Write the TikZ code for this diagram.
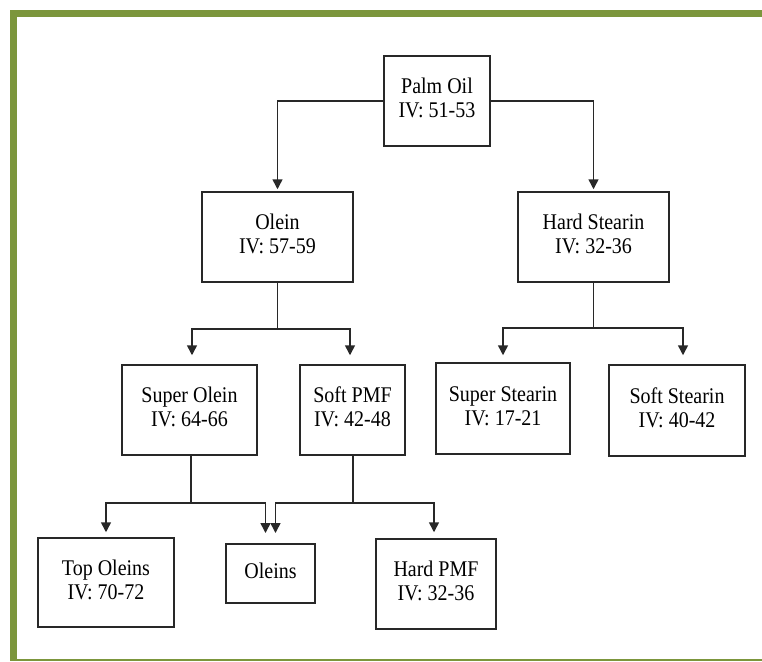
\documentclass[tikz,border=0pt]{standalone}
\usepackage{fontspec}
\usepackage{graphicx}
\setmainfont{Liberation Serif}
\usetikzlibrary{arrows.meta}
\definecolor{frame}{RGB}{124,150,60}
\definecolor{ink}{RGB}{40,40,40}
% two-line box label, slightly tall lettering, optional vertical nudge
\newcommand{\boxtext}[2][4pt]{\raisebox{#1}{\scalebox{1}[1.12]{\begin{tabular}{@{}c@{}}#2\end{tabular}}}}
\tikzset{
  stage/.style={draw=ink, line width=1.5pt, fill=white, inner sep=0pt,
    font=\fontsize{20}{21.5}\selectfont, text=black},
  flow/.style={draw=ink, line width=1.5pt},
  feed/.style={flow, -{Triangle[width=10pt,length=10pt]}},
}
\begin{document}
\begin{tikzpicture}[x=1pt, y=-1pt]
\useasboundingbox (0,0) rectangle (762,661);
\fill[white] (0,0) rectangle (762,661);
% green frame: heavy top and left bars, thin bottom rule
\fill[frame] (10,10) rectangle (762,17);
\fill[frame] (10,10) rectangle (17,661);
\fill[frame] (10,659) rectangle (762,661);

% fractions
\node[stage, minimum width=106pt, minimum height=90pt] (palm) at (437,101) {\boxtext{Palm Oil\\IV: 51-53}};
\node[stage, minimum width=151pt, minimum height=90pt] (olein) at (277.5,237) {\boxtext{Olein\\IV: 57-59}};
\node[stage, minimum width=151pt, minimum height=90pt] (hardst) at (593.5,237) {\boxtext{Hard Stearin\\IV: 32-36}};
\node[stage, minimum width=135pt, minimum height=90pt] (superol) at (189.5,410) {\boxtext{Super Olein\\IV: 64-66}};
\node[stage, minimum width=105pt, minimum height=90pt] (softpmf) at (352.5,410) {\boxtext{Soft PMF\\IV: 42-48}};
\node[stage, minimum width=134pt, minimum height=91pt] (superst) at (503,408.5) {\boxtext{Super Stearin\\IV: 17-21}};
\node[stage, minimum width=136pt, minimum height=91pt] (softst) at (677,410.5) {\boxtext{Soft Stearin\\IV: 40-42}};
\node[stage, minimum width=136pt, minimum height=89pt] (topol) at (106,582.5) {\boxtext{Top Oleins\\IV: 70-72}};
\node[stage, minimum width=89pt, minimum height=59pt] (oleins) at (270.5,573.5) {\boxtext[1pt]{Oleins}};
\node[stage, minimum width=120pt, minimum height=90pt] (hardpmf) at (436,584) {\boxtext[-6pt]{Hard PMF\\IV: 32-36}};

% junction points below each parent
\coordinate (jOlein) at (277.5,329);
\coordinate (jHard) at (593.5,328);
\coordinate (jSuper) at (191,503);
\coordinate (jSoft) at (353,503);
\coordinate (oleinsA) at (265.5,544);
\coordinate (oleinsB) at (275.5,544);

% palm oil split
\draw[feed, shorten >=2pt] (palm.west) -| (olein.north);
\draw[feed, shorten >=2pt] (palm.east) -| (hardst.north);

% olein split
\draw[flow] (olein.south) -- (jOlein);
\draw[feed, shorten >=9pt] (jOlein) -| (superol.north -| 192,0);
\draw[feed, shorten >=9pt] (jOlein) -| (softpmf.north -| 350,0);

% hard stearin split
\draw[flow] (hardst.south) -- (jHard);
\draw[feed, shorten >=7pt] (jHard) -| (superst.north);
\draw[feed, shorten >=9pt] (jHard) -| (softst.north -| 683,0);

% super olein split
\draw[flow] (superol.south -| jSuper) -- (jSuper);
\draw[feed, shorten >=5pt] (jSuper) -| (topol.north);
\draw[feed, shorten >=11pt] (jSuper) -| (oleinsA);

% soft pmf split
\draw[flow] (softpmf.south -| jSoft) -- (jSoft);
\draw[feed, shorten >=11pt] (jSoft) -| (oleinsB);
\draw[feed, shorten >=6pt] (jSoft) -| (hardpmf.north -| 434,0);
\end{tikzpicture}
\end{document}
